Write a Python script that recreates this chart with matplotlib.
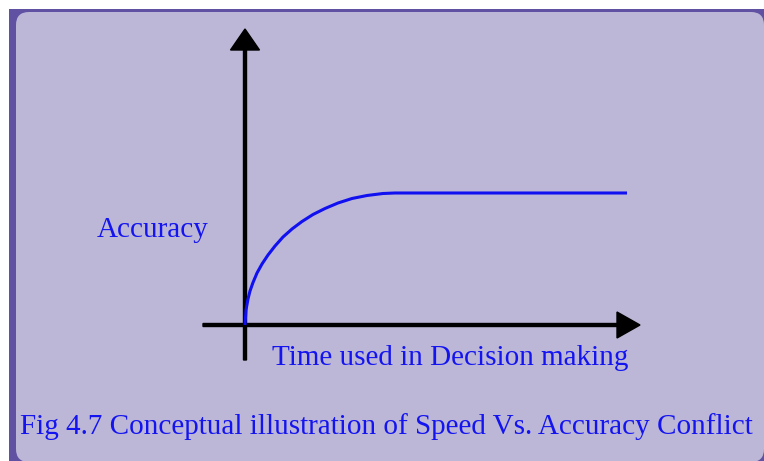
import matplotlib
matplotlib.use('Agg')
from matplotlib import pyplot as plt
from matplotlib.patches import Rectangle, FancyBboxPatch

# accuracy vs time used (arbitrary units)
time_used = [0, 1, 3, 5, 8, 12, 17, 23, 30, 38, 47, 57, 68, 80, 93, 107, 122, 138, 150, 382]
accuracy = [0, 15, 26, 34, 42.5, 52, 61, 70, 79, 88, 96, 103.5, 110.5, 116.5, 122, 126.5, 129.5, 131.5, 132, 132]

y_label = 'Accuracy'
x_label = 'Time used in Decision making'
caption = 'Fig 4.7 Conceptual illustration of Speed Vs. Accuracy Conflict'

W, H = 764, 461
fig = plt.figure(figsize=(W / 100, H / 100), dpi=100)

# background frame (pixel coords)
bg = fig.add_axes([0, 0, 1, 1])
bg.set_xlim(0, W)
bg.set_ylim(H, 0)
bg.axis('off')
bg.add_patch(Rectangle((9, 9), W, H, facecolor='#6151a3', edgecolor='none'))
bg.add_patch(FancyBboxPatch((16, 12), W - 16, H - 11,
                            boxstyle='round,pad=0,rounding_size=13',
                            facecolor='#bcb7d6', edgecolor='none'))

# chart axes, origin at the crossing of the arrows
ax = fig.add_axes([0, 0, 1, 1])
ax.patch.set_alpha(0)
ax.set_xlim(-245, W - 245)
ax.set_ylim(-136, H - 136)
ax.axis('off')

ax.arrow(0, -35, 0, 331, width=3, head_width=29, head_length=21,
         length_includes_head=True, color='black')
ax.arrow(-42, 0, 437, 0, width=3, head_width=26, head_length=23,
         length_includes_head=True, color='black')

ax.plot(time_used, accuracy, color='#1010f0', lw=2.2, solid_capstyle='butt', zorder=5)

font = dict(family='Liberation Serif', color='#1414f0', fontsize=21, va='baseline')
ax.text(-148, 88, y_label, **font)
ax.text(27, -40, x_label, **font)
ax.text(-225, -109, caption, **font)

fig.savefig('out.png', dpi=100)
